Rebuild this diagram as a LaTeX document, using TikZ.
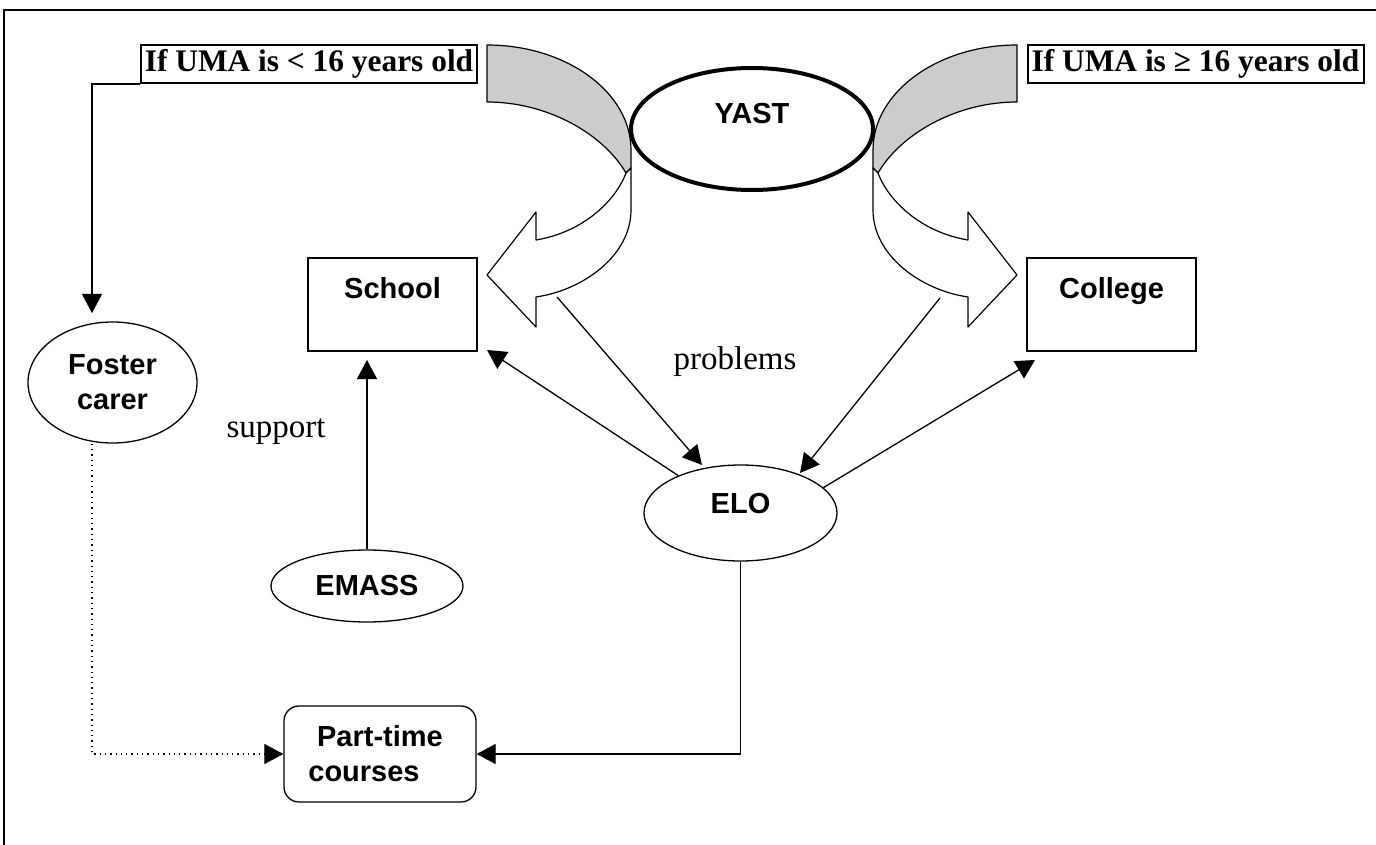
\documentclass[tikz,border=0pt]{standalone}
\usepackage{fontspec}
\setmainfont{Liberation Sans}
\newfontfamily\serifface{Liberation Serif}
\usetikzlibrary{arrows.meta,shapes.geometric,calc}
\tikzset{
  conn/.style={line width=0.65pt, -{Triangle[length=9.5pt,width=10pt]}},
  sansbf/.style={font=\bfseries\fontsize{14.5}{17.5}\selectfont},
  oval/.style={ellipse, draw, line width=0.65pt, inner sep=0pt, sansbf, align=center},
  boxnode/.style={rectangle, draw, line width=0.6pt, inner sep=0pt, sansbf,
    minimum width=84.5pt, minimum height=46.5pt, text height=10.4pt, text depth=16.5pt},
  agelabel/.style={rectangle, draw, line width=1pt, inner sep=0pt,
    minimum width=168pt, minimum height=19pt,
    font=\serifface\bfseries\fontsize{15.7}{18}\selectfont},
  serifnote/.style={font=\serifface\fontsize{16.5}{20}\selectfont, inner sep=0pt},
  band/.style={draw, line width=0.6pt, line join=round},
}
\newcommand\yastband{%
  \filldraw[band, fill=black!20] (1017,45) .. controls (938,45) and (873,92) .. (873,150)
    -- (873,168) -- (878,173) .. controls (900,135) and (955,102) .. (1017,102) -- cycle;
  \filldraw[band, fill=white] (873,168) -- (873,210) .. controls (873,255) and (920,290) .. (968,297)
    -- (968,327) -- (1017,275) -- (968,212) -- (968,240)
    .. controls (920,232) and (888,200) .. (878,173) -- cycle;
}
\begin{document}
\begin{tikzpicture}[x=0.5pt, y=-0.5pt]
\useasboundingbox (0,0) rectangle (1376,845);
\fill[white] (0,0) rectangle (1376,845);
% frame
\draw[line width=1pt] (4,845) -- (4,10) -- (1376,10);

% curved block arrows
\yastband
\begin{scope}[shift={(1504,0)}, xscale=-1]
  \yastband
\end{scope}

% nodes
\node[ellipse, draw, line width=2pt, fill=white, inner sep=0pt, sansbf,
      minimum width=121pt, minimum height=61pt, text height=10.4pt, text depth=16pt]
      (yast) at (752,129) {YAST};
\node[agelabel] (lbox) at (309,64) {If UMA is < 16 years old};
\node[agelabel] (rbox) at (1195.5,64) {If UMA is ≥ 16 years old};
\node[boxnode] (school) at (392.5,304.5) {School};
\node[boxnode] (college) at (1111.5,304.5) {College};
\node[oval, minimum width=84.5pt, minimum height=60.5pt] (foster) at (112.5,382.5) {Foster\\carer};
\node[oval, minimum width=96pt, minimum height=36pt] (emass) at (367,586) {EMASS};
\node[oval, minimum width=96.5pt, minimum height=48pt, text height=10.4pt, text depth=10pt] (elo) at (740.5,513) {ELO};
\node[rectangle, rounded corners=7.5pt, draw, line width=0.65pt, inner sep=0pt, sansbf, align=center,
      minimum width=96pt, minimum height=48pt] (ptc) at (380,754) {Part-time\\courses\hspace*{16pt}};
\node[serifnote] (support) at (276,432) {support};
\node[serifnote] (problems) at (735,362) {problems};

% connector end points
\coordinate (fosterin) at (92,313);
\coordinate (schoolin) at (367,360);
\coordinate (schooltip) at (487,350);
\coordinate (collegetip) at (1035,360);
\coordinate (lstart) at (557,297);
\coordinate (rstart) at (940,298);
\coordinate (elotipl) at (702,465);
\coordinate (elotipr) at (800,473);

% connectors
\draw[conn] (lbox.south west) -| (fosterin);
\draw[conn] (emass.north) -- (schoolin);
\draw[conn] (elo.149) -- (schooltip);
\draw[conn] (elo.17) -- (collegetip);
\draw[conn] (lstart) -- (elotipl);
\draw[conn] (rstart) -- (elotipr);
\draw[conn] (elo.south) |- (ptc.east);
\draw[conn, dotted, line width=0.6pt] (foster.south -| fosterin) |- (ptc.west);
\end{tikzpicture}
\end{document}
